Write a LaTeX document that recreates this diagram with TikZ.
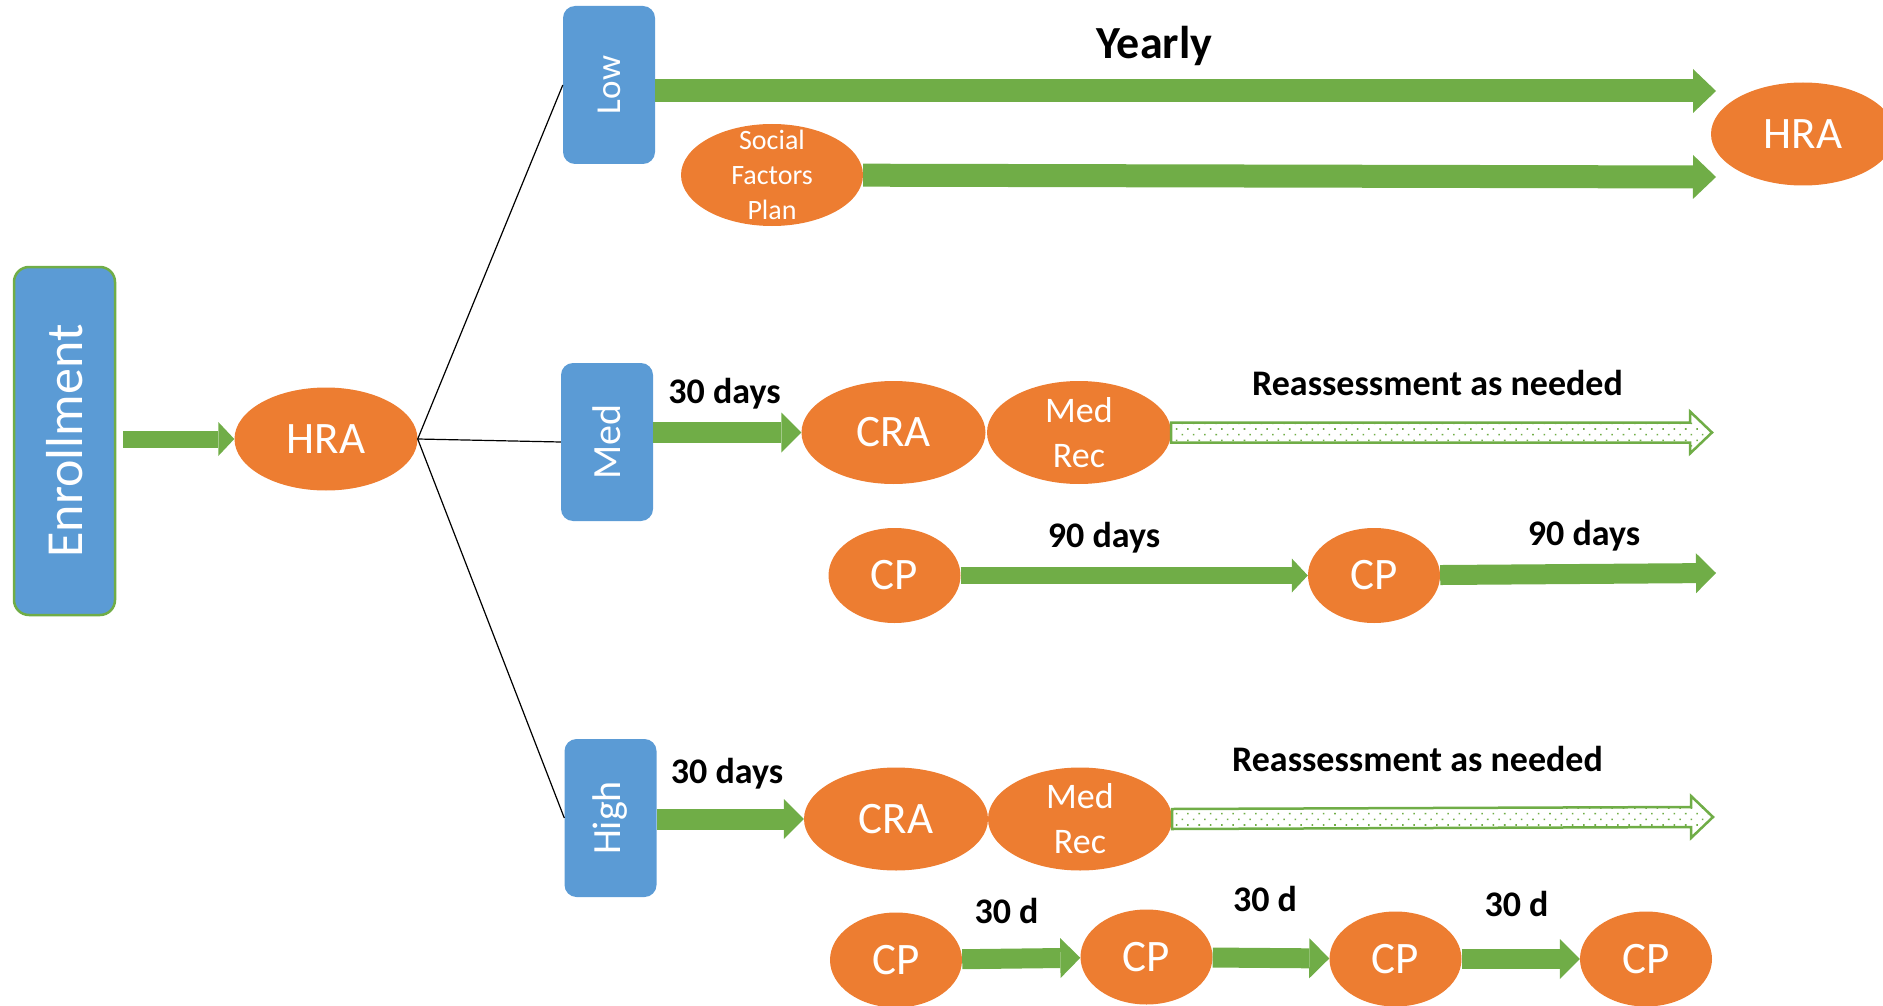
\documentclass[tikz,border=0pt]{standalone}
\usepackage{fontspec}
\setmainfont{Carlito}
\usetikzlibrary{arrows.meta, positioning, shapes.geometric, calc, patterns.meta}

\definecolor{tierblue}{HTML}{5B9BD5}
\definecolor{visitorange}{HTML}{ED7D31}
\definecolor{flowgreen}{HTML}{70AD47}

\newcommand{\tiertext}[1]{\rotatebox{90}{#1}}

\begin{document}
\begin{tikzpicture}[x=1pt, y=-1pt,
    tier/.style={fill=tierblue, rounded corners=12pt, text=white, minimum width=92pt, minimum height=158pt, inner sep=0pt},
    visit/.style={ellipse, fill=visitorange, text=white, inner sep=0pt, minimum width=184pt, minimum height=103pt, font=\fontsize{45}{54}\selectfont},
    cpvisit/.style={visit, minimum width=132pt, minimum height=95pt},
    timing/.style={anchor=base, inner sep=0pt, font=\bfseries\fontsize{36}{43}\selectfont},
    branch/.style={black, line width=1.2pt},
    flow/.style={flowgreen, line width=21pt, -{Triangle[length=20pt, width=40pt, line width=0pt]}},
    longflow/.style={flowgreen, line width=23pt, -{Triangle[length=23pt, width=44pt, line width=0pt]}},
    shortflow/.style={flowgreen, line width=17pt, -{Triangle[length=16pt, width=34pt, line width=0pt]}},
    reassess/.style={draw=flowgreen, line width=2.5pt, pattern={Dots[radius=1.1pt, distance=8pt, angle=45]}, pattern color=flowgreen}]
    \useasboundingbox (0,0) rectangle (1883,1006);

    % enrollment and first HRA
    \node[tier, minimum width=101pt, minimum height=348pt, draw=flowgreen, line width=2.5pt, rounded corners=15pt,
        font=\fontsize{52}{62}\selectfont] (enroll) at (64.5,441) {\tiertext{Enrollment}};
    \node[visit, minimum width=183pt] (hra) at (326,439) {HRA};
    \draw[shortflow] ([xshift=7pt]enroll.east |- hra) -- (hra);

    % risk tiers
    \node[tier, font=\fontsize{35}{42}\selectfont] (low) at (609,85) {\tiertext{Low}};
    \node[tier, font=\fontsize{40}{48}\selectfont] (med) at (607,442) {\tiertext{Med}};
    \node[tier, font=\fontsize{40}{48}\selectfont] (high) at (610.5,818) {\tiertext{High}};
    \draw[branch] (hra.east) -- (low.west);
    \draw[branch] (hra.east) -- (med.west);
    \draw[branch] (hra.east) -- (high.west);

    % low
    \node[visit, minimum width=182pt, minimum height=102pt, inner ysep=-10pt, align=center,
        font=\fontsize{28}{35}\selectfont] (sfp) at (772,175) {Social\\Factors\\Plan};
    \node[visit] (hraYear) at (1803,134) {HRA};
    \coordinate (yearlyEnd) at (1716,91);
    \coordinate (sfpEnd) at (1716,177);
    \draw[longflow] (low.east |- yearlyEnd) -- (yearlyEnd);
    \draw[longflow] (sfp) -- (sfpEnd);
    \node[timing, font=\bfseries\fontsize{46}{55}\selectfont] (yearlyLbl) at (1154.5,59) {Yearly};

    % med
    \node[visit] (craA) at (893.5,432.5) {CRA};
    \node[visit, inner ysep=-4pt, align=center, font=\fontsize{36}{45}\selectfont] (mrecA) at (1079,432.5) {Med\\Rec};
    \draw[flow] (med.east |- craA) -- (craA);
    \node[timing] (medDays) at (724.5,403) {30 days};
    \coordinate (medEnd) at (1712,432.5);
    \draw[reassess] ($(mrecA.east)+(0,-10)$) -- ($(medEnd)+(-22,-10)$) -- ($(medEnd)+(-22,-21)$) -- (medEnd)
        -- ($(medEnd)+(-22,21)$) -- ($(medEnd)+(-22,10)$) -- ($(mrecA.east)+(0,10)$) -- cycle;
    \node[timing] (medRe) at (1437.5,395) {Reassessment as needed};

    \node[cpvisit] (cpA1) at (894.5,575.5) {CP};
    \node[cpvisit] (cpA2) at (1374,575.5) {CP};
    \coordinate (cpEnd) at (1716,573);
    \draw[shortflow] (cpA1) -- (cpA2);
    \draw[flow, line width=20pt] (cpA2) -- (cpEnd);
    \node[timing] (cpA1Days) at (1104,547) {90 days};
    \node[timing] (cpA2Days) at (1584,545) {90 days};

    % high
    \node[visit] (craB) at (896,819) {CRA};
    \node[visit, inner ysep=-4pt, align=center, font=\fontsize{36}{45}\selectfont] (mrecB) at (1080,819) {Med\\Rec};
    \draw[flow] (high.east |- craB) -- (craB);
    \node[timing] (highDays) at (727,783) {30 days};
    \coordinate (highEnd) at (1713,817);
    \draw[reassess] ($(mrecB.east)+(0,-10)$) -- ($(highEnd)+(-22,-10)$) -- ($(highEnd)+(-22,-21)$) -- (highEnd)
        -- ($(highEnd)+(-22,21)$) -- ($(highEnd)+(-22,10)$) -- ($(mrecB.east)+(0,10)$) -- cycle;
    \node[timing] (highRe) at (1417.5,771) {Reassessment as needed};

    \node[cpvisit] (cpB1) at (896,960) {CP};
    \node[cpvisit] (cpB2) at (1146.5,957) {CP};
    \node[cpvisit] (cpB3) at (1395.5,959) {CP};
    \node[cpvisit] (cpB4) at (1646,959) {CP};
    \draw[flow, line width=20pt] (cpB1) -- (cpB2);
    \draw[flow, line width=20pt] (cpB2) -- (cpB3);
    \draw[flow, line width=20pt] (cpB3) -- (cpB4);
    \node[timing] (cpB1Days) at (1006.5,923) {30 d};
    \node[timing] (cpB2Days) at (1265,911) {30 d};
    \node[timing] (cpB3Days) at (1516.5,916) {30 d};
\end{tikzpicture}
\end{document}
